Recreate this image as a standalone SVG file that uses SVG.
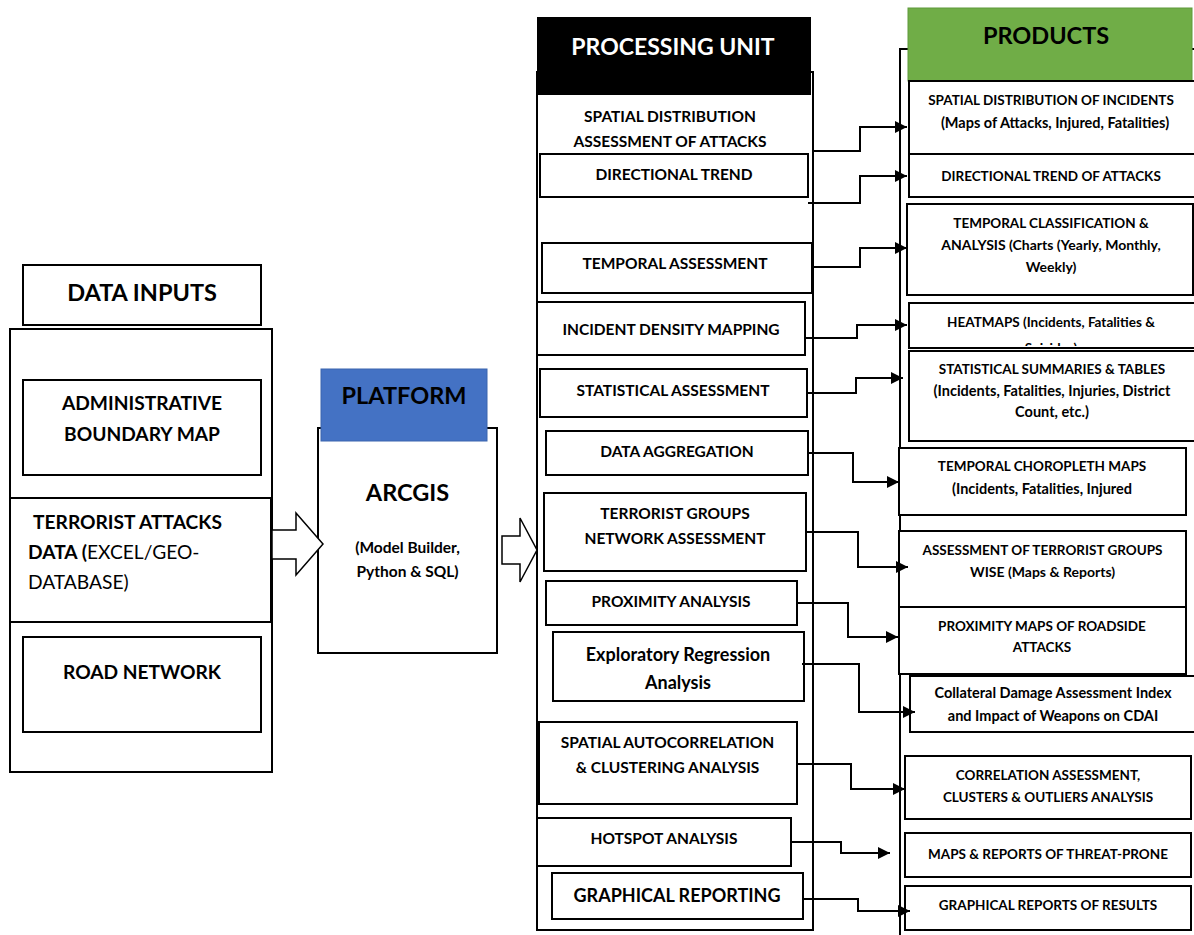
<svg xmlns="http://www.w3.org/2000/svg" width="1194" height="935" viewBox="0 0 1194 935">
<style>
.box{fill:#fff;stroke:#000;stroke-width:2}
.frame{fill:none;stroke:#000;stroke-width:2}
.fat{fill:#fff;stroke:#000;stroke-width:1.5;stroke-linejoin:miter}
.con{fill:none;stroke:#000;stroke-width:2;marker-end:url(#ah)}
text{font-family:Lato,"Liberation Sans",sans-serif;font-weight:bold;fill:#000;text-anchor:middle}
.h{font-size:23.5px}
.hw{font-size:23px;fill:#fff}
.l{font-size:19.2px}
.ls{font-size:19.2px;text-anchor:start}
.n{font-weight:normal}
.ps{font-size:15.5px}
.p{font-size:15.5px}
.pl{font-size:18px}
.r{font-size:13.5px}
.rm{font-size:14px}
.rl{font-size:14.5px}
</style>
<defs>
<marker id="ah" markerUnits="userSpaceOnUse" markerWidth="12" markerHeight="12" refX="12" refY="6" orient="auto">
<path d="M0,0 L12,6 L0,12 z" fill="#000"/>
</marker>
<clipPath id="heatclip"><rect x="909" y="303" width="285" height="43"/></clipPath>
</defs>
<rect width="1194" height="935" fill="#fff"/>

<!-- DATA INPUTS -->
<g id="data-inputs-title">
<rect class="box" x="23" y="265" width="238" height="60"/>
<text class="h" x="142" y="300.5">DATA INPUTS</text>
</g>
<g id="data-inputs-frame">
<rect class="box" x="10" y="329" width="262" height="443"/>
</g>
<g id="admin-boundary">
<rect class="box" x="23" y="380" width="238" height="95"/>
<text class="l" x="142" y="410">ADMINISTRATIVE</text>
<text class="l" x="142" y="441">BOUNDARY MAP</text>
</g>
<g id="terrorist-data">
<rect class="box" x="10" y="498" width="261" height="124"/>
<text class="ls" x="33" y="529">TERRORIST ATTACKS</text>
<text class="ls" x="28" y="559">DATA (<tspan class="n">EXCEL/GEO-</tspan></text>
<text class="ls n" x="28" y="589">DATABASE)</text>
</g>
<g id="road-network">
<rect class="box" x="23" y="637" width="238" height="95"/>
<text class="l" x="142" y="679">ROAD NETWORK</text>
</g>

<!-- PLATFORM -->
<g id="arcgis">
<rect class="box" x="318" y="428" width="179" height="225"/>
<text class="h" x="407.5" y="500.5">ARCGIS</text>
<text class="ps" x="407.5" y="552.5">(Model Builder,</text>
<text class="ps" x="407.5" y="576.5">Python &amp; SQL)</text>
</g>
<g id="platform-title">
<rect x="321" y="369" width="166" height="72" fill="#4472C4" stroke="#3A64AE" stroke-width="1"/>
<text class="h" x="404" y="403.5">PLATFORM</text>
</g>

<!-- PROCESSING UNIT -->
<g id="processing-frame">
<rect class="box" x="537" y="72" width="276" height="858"/>
</g>
<g id="processing-title">
<rect x="537" y="17" width="274" height="78" fill="#000"/>
<text class="hw" x="673" y="54.5">PROCESSING UNIT</text>
</g>
<g id="p-spatial">
<text class="p" x="670" y="121.6">SPATIAL DISTRIBUTION</text>
<text class="p" x="670" y="146.6">ASSESSMENT OF ATTACKS</text>
</g>
<g id="p-directional">
<rect class="box" x="540" y="154" width="268" height="43"/>
<text class="p" x="674" y="179.6">DIRECTIONAL TREND</text>
</g>
<g id="p-temporal">
<rect class="box" x="542" y="243" width="270" height="50"/>
<text class="p" x="675" y="268.6">TEMPORAL ASSESSMENT</text>
</g>
<g id="p-density">
<rect class="box" x="537" y="302" width="268" height="53"/>
<text class="p" x="671" y="334.6">INCIDENT DENSITY MAPPING</text>
</g>
<g id="p-statistical">
<rect class="box" x="540" y="369" width="267" height="48"/>
<text class="p" x="673" y="395.6">STATISTICAL ASSESSMENT</text>
</g>
<g id="p-aggregation">
<rect class="box" x="546" y="431" width="262" height="44"/>
<text class="p" x="677" y="456.6">DATA AGGREGATION</text>
</g>
<g id="p-groups">
<rect class="box" x="544" y="493" width="262" height="78"/>
<text class="p" x="675" y="518.6">TERRORIST GROUPS</text>
<text class="p" x="675" y="543.6">NETWORK ASSESSMENT</text>
</g>
<g id="p-proximity">
<rect class="box" x="546" y="581" width="251" height="44"/>
<text class="p" x="671" y="606.6">PROXIMITY ANALYSIS</text>
</g>
<g id="p-regression">
<rect class="box" x="553" y="632" width="251" height="69"/>
<text class="pl" x="678" y="660.5">Exploratory Regression</text>
<text class="pl" x="678" y="688.5">Analysis</text>
</g>
<g id="p-autocorrelation">
<rect class="box" x="539" y="722" width="258" height="82"/>
<text class="p" x="667.5" y="747.6">SPATIAL AUTOCORRELATION</text>
<text class="p" x="667.5" y="772.6">&amp; CLUSTERING ANALYSIS</text>
</g>
<g id="p-hotspot">
<rect class="box" x="537" y="818" width="254" height="48"/>
<text class="p" x="664" y="843.6">HOTSPOT ANALYSIS</text>
</g>
<g id="p-graphical">
<rect class="box" x="552" y="873" width="251" height="46"/>
<text class="pl" x="677" y="901.5">GRAPHICAL REPORTING</text>
</g>

<!-- PRODUCTS -->
<g id="products-frame">
<path class="frame" d="M1194,49 H900 V935"/>
</g>
<g id="products-title">
<rect x="908" y="8" width="284" height="73" fill="#70AD47" stroke="#5E9A3A" stroke-width="1"/>
<text class="h" x="1046" y="43.5">PRODUCTS</text>
</g>
<g id="r-spatial">
<rect class="box" x="909" y="81" width="287" height="73"/>
<text class="r" x="1051" y="104.9">SPATIAL DISTRIBUTION OF INCIDENTS</text>
<text class="rl" x="1055" y="127.9">(Maps of Attacks, Injured, Fatalities)</text>
</g>
<g id="r-directional">
<rect class="box" x="909" y="154" width="287" height="43"/>
<text class="r" x="1051" y="180.9">DIRECTIONAL TREND OF ATTACKS</text>
</g>
<g id="r-temporal">
<rect class="box" x="907" y="204" width="286" height="91"/>
<text class="r" x="1051" y="227.9">TEMPORAL CLASSIFICATION &amp;</text>
<text class="rm" x="1051" y="249.9">ANALYSIS (Charts (Yearly, Monthly,</text>
<text class="rm" x="1051" y="271.9">Weekly)</text>
</g>
<g id="r-heatmaps">
<rect class="box" x="909" y="303" width="287" height="45"/>
<text class="r" x="1051" y="326.9">HEATMAPS (Incidents, Fatalities &amp;</text>
<text class="r" x="1051" y="352.5" clip-path="url(#heatclip)">Suicides)</text>
</g>
<g id="r-statistical">
<rect class="box" x="909" y="351" width="287" height="90"/>
<text class="r" x="1052" y="373.9">STATISTICAL SUMMARIES &amp; TABLES</text>
<text class="rl" x="1052" y="395.9">(Incidents, Fatalities, Injuries, District</text>
<text class="rl" x="1052" y="416.9">Count, etc.)</text>
</g>
<g id="r-choropleth">
<rect class="box" x="899" y="448" width="287" height="67"/>
<text class="r" x="1042" y="470.9">TEMPORAL CHOROPLETH MAPS</text>
<text class="rl" x="1042" y="493.9">(Incidents, Fatalities, Injured</text>
</g>
<g id="r-groups">
<rect class="box" x="899" y="531" width="287" height="76"/>
<text class="r" x="1042.5" y="554.9">ASSESSMENT OF TERRORIST GROUPS</text>
<text class="rm" x="1042.5" y="576.9">WISE (Maps &amp; Reports)</text>
</g>
<g id="r-proximity">
<rect class="box" x="899" y="607" width="287" height="67"/>
<text class="r" x="1042" y="630.9">PROXIMITY MAPS OF ROADSIDE</text>
<text class="r" x="1042" y="651.9">ATTACKS</text>
</g>
<g id="r-collateral">
<rect class="box" x="910" y="676" width="286" height="56"/>
<text class="rl" x="1053" y="697.9">Collateral Damage Assessment Index</text>
<text class="rl" x="1053" y="720.9">and Impact of Weapons on CDAI</text>
</g>
<g id="r-correlation">
<rect class="box" x="905" y="756" width="286" height="63"/>
<text class="r" x="1048" y="779.9">CORRELATION ASSESSMENT,</text>
<text class="r" x="1048" y="801.9">CLUSTERS &amp; OUTLIERS ANALYSIS</text>
</g>
<g id="r-threat">
<rect class="box" x="905" y="833" width="286" height="44"/>
<text class="r" x="1048" y="858.9">MAPS &amp; REPORTS OF THREAT-PRONE</text>
</g>
<g id="r-graphical">
<rect class="box" x="905" y="886" width="286" height="44"/>
<text class="r" x="1048" y="909.9">GRAPHICAL REPORTS OF RESULTS</text>
</g>

<!-- CONNECTORS -->
<g id="connectors">
<polygon class="fat" points="272,530 296,530 296,513 323,544 296,575 296,559 272,559"/>
<polygon class="fat" points="502,536 520,536 520,518 537,550 520,582 520,564 502,564"/>
<polyline class="con" points="813,151 860,151 860,127 907,127"/>
<polyline class="con" points="808,203 860,203 860,176 907,176"/>
<polyline class="con" points="812,267 860,267 860,248 907,248"/>
<polyline class="con" points="805,338 857,338 857,325 907,325"/>
<polyline class="con" points="807,393 856,393 856,378 903,378"/>
<polyline class="con" points="808,453 853,453 853,482 899,482"/>
<polyline class="con" points="806,532 858,532 858,567 908,567"/>
<polyline class="con" points="797,603 848,603 848,637 898,637"/>
<polyline class="con" points="802,664 859,664 859,712 915,712"/>
<polyline class="con" points="797,764 851,764 851,789 905,789"/>
<polyline class="con" points="791,842 841,842 841,853 890,853"/>
<polyline class="con" points="803,899 858,899 858,911 910,911"/>
</g>
</svg>
